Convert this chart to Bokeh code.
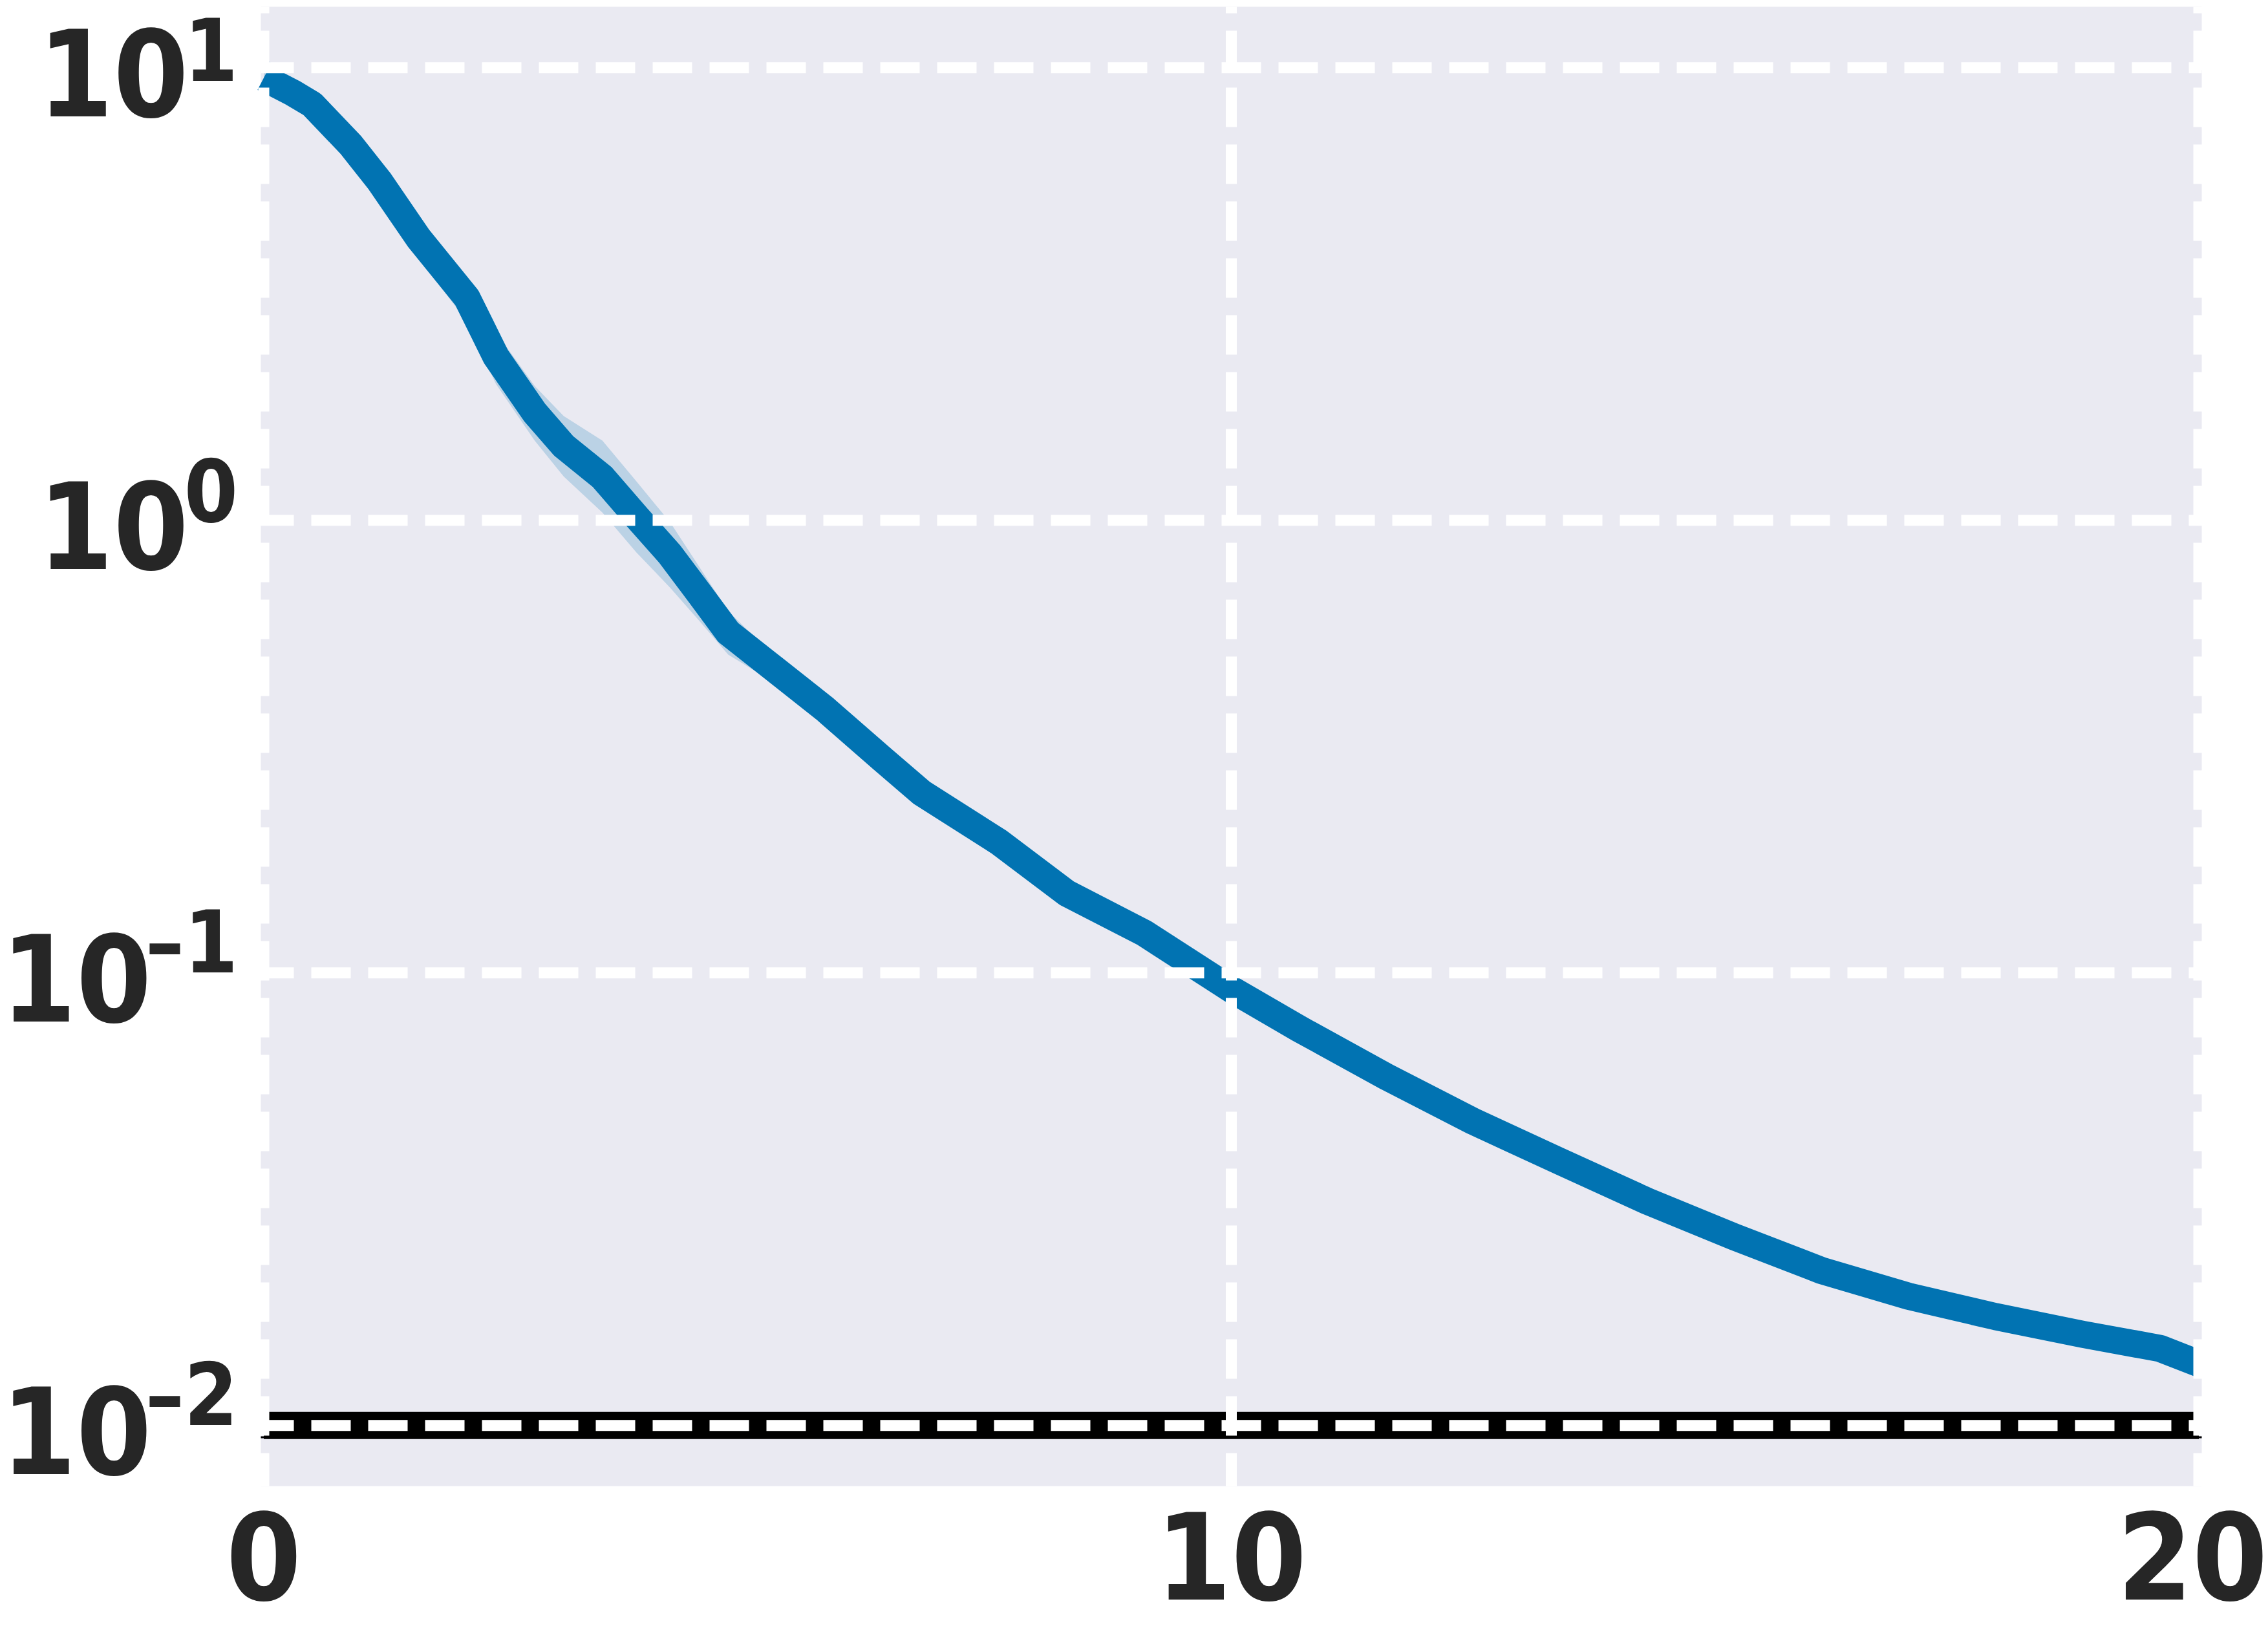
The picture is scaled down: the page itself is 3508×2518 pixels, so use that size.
import math
from bokeh.plotting import figure
from bokeh.models import Range1d, ColumnDataSource
from bokeh.core.properties import value
from bokeh.embed import file_html
from bokeh.resources import INLINE

# ---- data ----
epochs = [0, 0.3, 0.5, 0.9, 1.2, 1.6, 2.1, 2.4, 2.8, 3.1, 3.5, 3.85, 4.2, 4.5, 4.8,
          5.2, 5.8, 6.4, 6.8, 7.6, 8.3, 9.1, 10.0, 10.7, 11.6, 12.5, 13.4, 14.3,
          15.2, 16.1, 17.0, 17.9, 18.8, 19.6, 20]
mean_loss = [9.5, 8.8, 8.3, 6.75, 5.6, 4.2, 3.1, 2.3, 1.73, 1.46, 1.245, 1.02, 0.84,
             0.69, 0.565, 0.484, 0.383, 0.296, 0.25, 0.1945, 0.150, 0.1225, 0.092,
             0.0753, 0.059, 0.047, 0.0383, 0.0313, 0.0261, 0.022, 0.0193, 0.0174,
             0.0159, 0.0148, 0.0137]
upper_loss = [10.6, 9.25, 8.8, 7.2, 6.05, 4.6, 3.45, 2.6, 1.98, 1.7, 1.5, 1.22, 0.99,
              0.79, 0.63, 0.52, 0.40, 0.305, 0.257, 0.20, 0.154, 0.126, 0.0945,
              0.0775, 0.0607, 0.0484, 0.0394, 0.0322, 0.0269, 0.0227, 0.0199,
              0.0179, 0.0164, 0.0152, 0.0141]
lower_loss = [9.0, 8.4, 7.8, 6.3, 5.2, 3.8, 2.75, 2.0, 1.5, 1.25, 1.04, 0.85, 0.71,
              0.6, 0.505, 0.448, 0.365, 0.287, 0.243, 0.189, 0.146, 0.119, 0.0895,
              0.0731, 0.0573, 0.0456, 0.0372, 0.0304, 0.0253, 0.0214, 0.0187,
              0.0169, 0.0154, 0.0144, 0.0133]
target_x = [0, 20]
target_y = [0.01, 0.01]
floor_level = 0.00942

x_ticks = [0, 10, 20]
y_ticks = [0.01, 0.1, 1, 10]

# ---- styling / layout ----
BLUE = "#0173b2"
BG = "#eaeaf2"
TXT = "#262626"
FONT = "DejaVu Sans Condensed"
BASE_PX = 186
EXP_PX = 133
BASELINE_FIX = 0.365     # em: renderer puts the baseline this much lower
ASC, DESC, DIGIT = 0.928, 0.236, 0.626   # font metrics (em)

W, H = 3508, 2518
# plot area inside the canvas (px) and the data limits it shows
FL, FR, FT, FB = 403, 3405, 10, 2298
X0, X1 = -0.03, 20.03
L0, L1 = -2.1339, 1.1347           # log10 limits of the y axis
Y0, Y1 = 10 ** L0, 10 ** L1

PX_X = (FR - FL) / (X1 - X0)       # px per x unit
PX_Y = (FB - FT) / (L1 - L0)       # px per decade
XL, XR = X0 - FL / PX_X, X1 + (W - FR) / PX_X
LB, LT = L0 - (H - FB) / PX_Y, L1 + FT / PX_Y


def sx(x):                # data x -> canvas px
    return (x - XL) * PX_X


def sy(y):                # data y -> canvas px (from top)
    return (LT - math.log10(y)) * PX_Y


def ix(px):               # canvas px -> data x
    return XL + px / PX_X


def iy(px):               # canvas px -> data y
    return 10 ** (LT - px / PX_Y)


p = figure(width=W, height=H,
           x_range=Range1d(XL, XR), y_range=Range1d(10 ** LB, 10 ** LT),
           y_axis_type="log", min_border=0,
           output_backend="svg", toolbar_location=None)
p.background_fill_color = "white"
p.border_fill_color = "white"
p.outline_line_color = None
p.xaxis.visible = False
p.yaxis.visible = False
p.grid.visible = False

# plot-area background
p.quad(left=[X0], right=[X1], bottom=[Y0], top=[Y1], fill_color=BG, line_color=None)

# target line (thick black), under the grid
p.line(target_x, target_y, line_color="black", line_width=42, line_cap="butt")

# uncertainty band + mean curve
src = ColumnDataSource(dict(x=epochs, y=mean_loss, lo=lower_loss, hi=upper_loss))
p.varea(x="x", y1="lo", y2="hi", source=src, fill_color=BLUE, fill_alpha=0.2)
p.line(x="x", y="y", source=src, line_color=BLUE, line_width=42,
       line_cap="butt", line_join="round")

# grid: white dashed, drawn above the data
p.segment(x0=x_ticks, y0=[Y0] * len(x_ticks), x1=x_ticks, y1=[Y1] * len(x_ticks),
          line_color="white", line_width=17, line_dash="61 27", line_dash_offset=10)
p.segment(x0=[X0] * len(y_ticks), y0=y_ticks, x1=[X1] * len(y_ticks), y1=y_ticks,
          line_color="white", line_width=17, line_dash="61 27", line_dash_offset=10)

# thin black line above the grid
p.line([X0, X1], [floor_level, floor_level], line_color="black", line_width=3)

# ---- tick labels (kept inside the canvas) ----
def sup(v):
    e = int(round(math.log10(v)))
    return ("\u2013" if e < 0 else "") + str(abs(e))


exps = [sup(v) for v in y_ticks]
ADV = {"\u2013": 0.45}             # advance widths (em) of exponent chars


def text_width(s, size):
    return sum(ADV.get(c, DIGIT) for c in s) * size


common = dict(text_font=value(FONT), text_font_style="bold", text_color=TXT,
              text_baseline="alphabetic")

# x tick labels
x_text = [str(t) for t in x_ticks]
x_base = min(FB + 179, H - DESC * BASE_PX - 1)
x_pos = [min(max(sx(t), text_width(s, BASE_PX) / 2 + 1),
             W - text_width(s, BASE_PX) / 2 - 1) for t, s in zip(x_ticks, x_text)]
p.text(x=[ix(v) for v in x_pos],
       y=[iy(x_base - BASELINE_FIX * BASE_PX)] * len(x_ticks),
       text=x_text, text_align="center", text_font_size=f"{BASE_PX}px", **common)

# y tick labels: "10" + exponent, right-aligned left of the plot area
exp_right = sx(0) - 40
base_right = [max(exp_right - text_width(s, EXP_PX) + 7, text_width("10", BASE_PX) + 1)
              for s in exps]
base_line = [sy(v) + 75 for v in y_ticks]
exp_line = [max(sy(v) + 2, ASC * EXP_PX + 1) for v in y_ticks]

p.text(x=[ix(v) for v in base_right],
       y=[iy(b - BASELINE_FIX * BASE_PX) for b in base_line],
       text=["10"] * len(y_ticks), text_align="right",
       text_font_size=f"{BASE_PX}px", **common)

p.text(x=[ix(exp_right)] * len(y_ticks),
       y=[iy(b - BASELINE_FIX * EXP_PX) for b in exp_line],
       text=exps, text_align="right", text_font_size=f"{EXP_PX}px", **common)

open("out.html", "w").write(file_html(p, INLINE))
